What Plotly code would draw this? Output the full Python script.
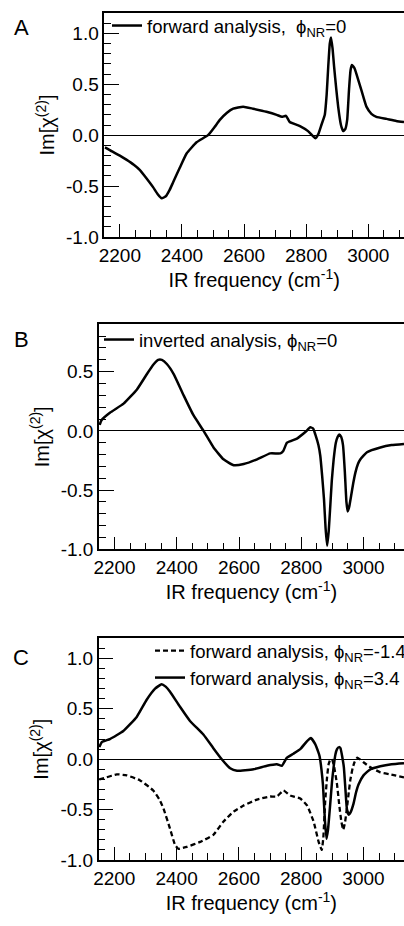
import plotly.graph_objects as go

# ---------------- data ----------------
# Panel A: forward analysis, phi_NR = 0
freq_a = [2152, 2175, 2200, 2221, 2245, 2264, 2285, 2307, 2322, 2335, 2348, 2360, 2372, 2393,
          2415, 2447, 2484, 2505, 2522, 2545, 2565, 2597, 2629, 2672, 2705, 2722, 2735, 2747,
          2780, 2806, 2822, 2830, 2839, 2849, 2860, 2866, 2871, 2876, 2880, 2885, 2890, 2897,
          2903, 2912, 2919, 2926, 2932, 2938, 2943, 2947, 2955, 2962, 2978, 2994, 3010, 3026,
          3059, 3090, 3115]
im_a = [-0.12, -0.16, -0.20, -0.24, -0.29, -0.34, -0.42, -0.51, -0.58, -0.62, -0.60, -0.54,
        -0.46, -0.32, -0.18, -0.07, 0.00, 0.08, 0.15, 0.22, 0.26, 0.28, 0.26, 0.23, 0.20, 0.18,
        0.19, 0.13, 0.09, 0.04, -0.01, -0.03, 0.01, 0.10, 0.20, 0.40, 0.67, 0.90, 0.96, 0.85,
        0.67, 0.45, 0.28, 0.10, 0.04, 0.06, 0.15, 0.45, 0.64, 0.69, 0.66, 0.60, 0.44, 0.28,
        0.21, 0.18, 0.16, 0.14, 0.13]

# Panel B: inverted analysis, phi_NR = 0
freq_b = [2152, 2158, 2186, 2229, 2272, 2304, 2325, 2340, 2352, 2368, 2390, 2422, 2454, 2486,
          2518, 2550, 2583, 2615, 2658, 2700, 2733, 2742, 2754, 2786, 2813, 2829, 2838, 2845,
          2855, 2861, 2867, 2873, 2878, 2883, 2888, 2893, 2898, 2904, 2911, 2917, 2922, 2928,
          2934, 2940, 2945, 2949, 2954, 2960, 2967, 2974, 2982, 2990, 3011, 3054, 3090, 3130]
im_b = [0.05, 0.09, 0.155, 0.23, 0.35, 0.48, 0.56, 0.60, 0.60, 0.565, 0.48, 0.30, 0.13, 0.00,
        -0.14, -0.24, -0.29, -0.28, -0.24, -0.19, -0.19, -0.17, -0.10, -0.065, -0.01, 0.03, 0.02,
        -0.03, -0.12, -0.21, -0.38, -0.58, -0.82, -0.97, -0.85, -0.64, -0.42, -0.24, -0.10,
        -0.05, -0.03, -0.05, -0.12, -0.35, -0.60, -0.68, -0.64, -0.55, -0.44, -0.35, -0.28,
        -0.24, -0.18, -0.14, -0.12, -0.11]

# Panel C: forward analysis, phi_NR = 3.4 (solid)
freq_c1 = [2152, 2160, 2186, 2229, 2272, 2304, 2331, 2352, 2365, 2379, 2411, 2443, 2486, 2518,
           2545, 2572, 2594, 2647, 2690, 2722, 2738, 2754, 2775, 2797, 2819, 2831, 2845, 2855,
           2859, 2865, 2870, 2876, 2881, 2886, 2893, 2899, 2904, 2910, 2915, 2921, 2926, 2932,
           2937, 2942, 2947, 2953, 2958, 2968, 2976, 2984, 3000, 3022, 3054, 3090, 3130]
im_c1 = [0.12, 0.17, 0.20, 0.28, 0.42, 0.59, 0.70, 0.745, 0.72, 0.67, 0.52, 0.38, 0.245, 0.11,
         0.00, -0.09, -0.115, -0.10, -0.065, -0.05, -0.065, 0.015, 0.055, 0.10, 0.18, 0.21,
         0.15, 0.07, 0.03, -0.10, -0.26, -0.60, -0.79, -0.70, -0.45, -0.22, -0.08, 0.05, 0.10,
         0.12, 0.11, 0.02, -0.08, -0.30, -0.50, -0.55, -0.53, -0.44, -0.33, -0.25, -0.16, -0.10,
         -0.07, -0.05, -0.04]

# Panel C: forward analysis, phi_NR = -1.4 (dashed)
freq_c2 = [2152, 2175, 2208, 2240, 2283, 2325, 2345, 2358, 2379, 2395, 2406, 2420, 2433, 2476,
           2518, 2550, 2583, 2615, 2658, 2700, 2722, 2743, 2765, 2797, 2819, 2840, 2856, 2866,
           2871, 2877, 2883, 2888, 2894, 2900, 2906, 2915, 2922, 2929, 2935, 2941, 2947, 2953,
           2958, 2965, 2971, 2980, 2988, 3000, 3022, 3054, 3086, 3130]
im_c2 = [-0.20, -0.18, -0.15, -0.16, -0.21, -0.31, -0.40, -0.49, -0.69, -0.85, -0.89, -0.88,
         -0.87, -0.82, -0.75, -0.62, -0.52, -0.46, -0.40, -0.37, -0.37, -0.31, -0.36, -0.39,
         -0.46, -0.62, -0.82, -0.90, -0.78, -0.42, -0.18, -0.05, 0.00, -0.01, -0.08, -0.25,
         -0.45, -0.62, -0.70, -0.62, -0.48, -0.32, -0.20, -0.09, -0.03, 0.015, 0.00, -0.03,
         -0.08, -0.13, -0.15, -0.18]

x_tickvals = [2200, 2400, 2600, 2800, 3000]
x_ticktext = ["2200", "2400", "2600", "2800", "3000"]
y_tickvals = [-1.0, -0.5, 0.0, 0.5, 1.0]
y_ticktext = ["-1.0", "-0.5", "0.0", "0.5", "1.0"]

name_a = "forward analysis,  ϕ<sub>NR</sub>=0"
name_b = "inverted analysis, ϕ<sub>NR</sub>=0"
name_c2 = "forward analysis, ϕ<sub>NR</sub>=-1.4"
name_c1 = "forward analysis, ϕ<sub>NR</sub>=3.4"

# ---------------- figure ----------------
W, H = 404, 926
FONT = "Liberation Sans, Arial, Helvetica, sans-serif"
LEG_SIZE = 18.5


def px_x(p):
    return p / W


def px_y(p):
    return (H - p) / H


fig = go.Figure()
solid = dict(color="black", width=2.5, shape="spline", smoothing=0.4)
dashed = dict(color="black", width=2.3, shape="spline", smoothing=0.4, dash="5px,3px")

fig.add_trace(go.Scatter(x=freq_a, y=im_a, mode="lines", line=solid, name=name_a,
                         xaxis="x", yaxis="y", legend="legend"))
fig.add_trace(go.Scatter(x=freq_b, y=im_b, mode="lines", line=solid, name=name_b,
                         xaxis="x2", yaxis="y2", legend="legend2"))
fig.add_trace(go.Scatter(x=freq_c2, y=im_c2, mode="lines", line=dashed, name=name_c2,
                         xaxis="x3", yaxis="y3", legend="legend3"))
fig.add_trace(go.Scatter(x=freq_c1, y=im_c1, mode="lines", line=solid, name=name_c1,
                         xaxis="x3", yaxis="y3", legend="legend3"))


def xaxis(dom, rng, anchor):
    return dict(
        domain=dom, range=rng, anchor=anchor, showline=True, linecolor="black", linewidth=1.5,
        mirror=True, ticks="inside", ticklen=13, tickwidth=1, tickcolor="black",
        tickmode="array", tickvals=x_tickvals, ticktext=x_ticktext,
        minor=dict(ticks="inside", ticklen=7, tickwidth=1, tickcolor="black", dtick=50,
                   tick0=2200, showgrid=False),
        showgrid=False, zeroline=False, automargin=False,
        tickfont=dict(family=FONT, size=19, color="black"),
        title=dict(text="IR frequency (cm<sup>-1</sup>)", standoff=4,
                   font=dict(family=FONT, size=20, color="black")),
    )


def yaxis(dom, rng, anchor):
    return dict(
        domain=dom, range=rng, anchor=anchor, showline=True, linecolor="black", linewidth=1.5,
        mirror=False, ticks="inside", ticklen=15, tickwidth=1, tickcolor="black",
        tickmode="array", tickvals=y_tickvals, ticktext=y_ticktext,
        minor=dict(ticks="inside", ticklen=7, tickwidth=1, tickcolor="black", dtick=0.1,
                   tick0=0, showgrid=False),
        showgrid=False, zeroline=True, zerolinecolor="black", zerolinewidth=1, automargin=False,
        tickfont=dict(family=FONT, size=19, color="black"),
        title=dict(text="Im[χ<sup>(2)</sup>]", standoff=6,
                   font=dict(family=FONT, size=20, color="black")),
    )


def legend_at(x_px, y_px):
    return dict(x=px_x(x_px), y=px_y(y_px), xanchor="left", yanchor="top",
                bgcolor="rgba(0,0,0,0)",
                font=dict(family=FONT, size=LEG_SIZE, color="black"))


fig.update_layout(
    width=W, height=H, margin=dict(l=0, r=0, t=0, b=0, autoexpand=False),
    paper_bgcolor="white", plot_bgcolor="white",
    font=dict(family=FONT, color="black"),
    xaxis=xaxis([px_x(104.3), 1], [2150, 3115], "y"),
    yaxis=yaxis([px_y(237), px_y(13)], [-1, 1.2], "x"),
    xaxis2=xaxis([px_x(99), 1], [2150, 3130], "y2"),
    yaxis2=yaxis([px_y(549.3), px_y(324.3)], [-1, 0.9], "x2"),
    xaxis3=xaxis([px_x(98.7), 1], [2150, 3130], "y3"),
    yaxis3=yaxis([px_y(860), px_y(638.3)], [-1, 1.2], "x3"),
    legend=legend_at(107, 7),
    legend2=legend_at(99, 321),
    legend3=legend_at(150, 632),
    showlegend=True,
    annotations=[
        dict(text=t, x=px_x(21), y=px_y(yy), xref="paper", yref="paper", showarrow=False,
             xanchor="center", yanchor="middle", font=dict(family=FONT, size=22, color="black"))
        for t, yy in (("A", 27), ("B", 339), ("C", 657))
    ],
)

fig.write_html(
    "out.html",
    config={"displayModeBar": False},
    post_script="document.body.style.margin='0';document.body.style.overflow='hidden';",
)
